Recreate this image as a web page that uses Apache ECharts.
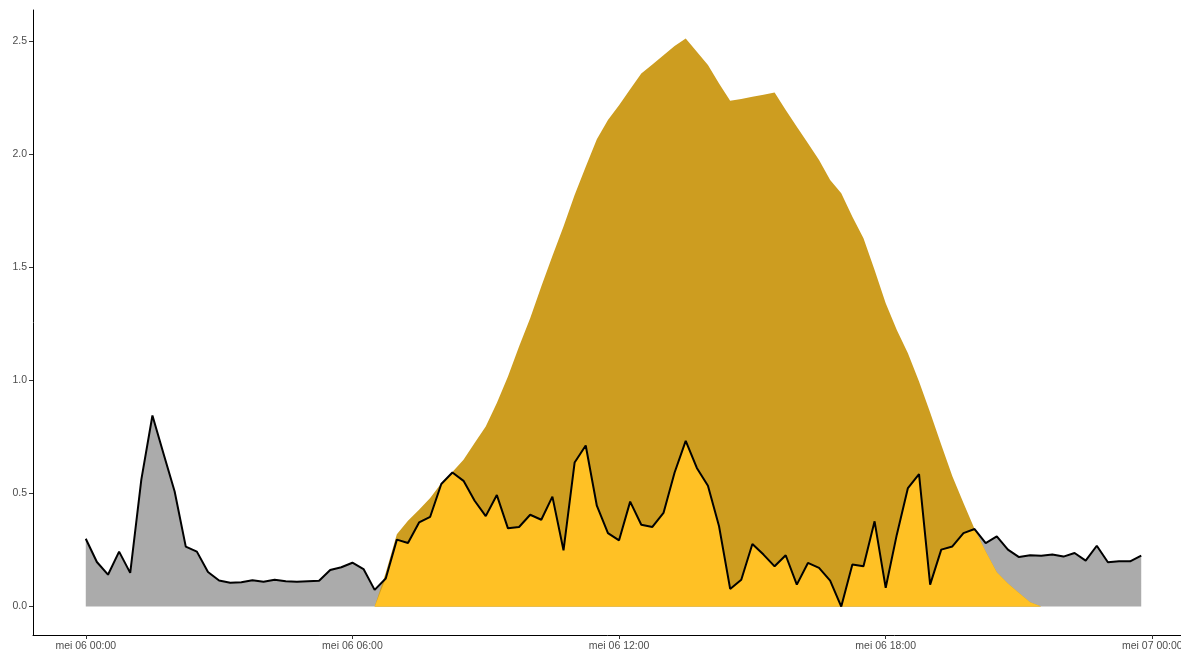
<!DOCTYPE html>
<html>
<head>
<meta charset="utf-8">
<script src="https://cdn.jsdelivr.net/npm/echarts@6/dist/echarts.min.js"></script>
<style>
  html, body { margin: 0; padding: 0; background: #ffffff; }
  #chart { width: 1181px; height: 653px; }
</style>
</head>
<body>
<div id="chart"></div>
<script>
// Time of each sample (15-minute steps on mei 06)
const times = [
  "00:00","00:15","00:30","00:45","01:00","01:15","01:30","01:45",
  "02:00","02:15","02:30","02:45","03:00","03:15","03:30","03:45",
  "04:00","04:15","04:30","04:45","05:00","05:15","05:30","05:45",
  "06:00","06:15","06:30","06:45","07:00","07:15","07:30","07:45",
  "08:00","08:15","08:30","08:45","09:00","09:15","09:30","09:45",
  "10:00","10:15","10:30","10:45","11:00","11:15","11:30","11:45",
  "12:00","12:15","12:30","12:45","13:00","13:15","13:30","13:45",
  "14:00","14:15","14:30","14:45","15:00","15:15","15:30","15:45",
  "16:00","16:15","16:30","16:45","17:00","17:15","17:30","17:45",
  "18:00","18:15","18:30","18:45","19:00","19:15","19:30","19:45",
  "20:00","20:15","20:30","20:45","21:00","21:15","21:30","21:45",
  "22:00","22:15","22:30","22:45","23:00","23:15","23:30","23:45"
];

// Consumption (black line, grey fill)
const consumption = [
  0.300,0.197,0.141,0.243,0.149,0.561,0.845,0.676,
  0.509,0.265,0.243,0.153,0.115,0.105,0.108,0.116,
  0.110,0.119,0.112,0.110,0.112,0.114,0.162,0.174,
  0.194,0.166,0.074,0.124,0.296,0.281,0.372,0.397,
  0.542,0.593,0.556,0.468,0.400,0.493,0.346,0.352,
  0.406,0.384,0.486,0.249,0.637,0.712,0.446,0.325,
  0.293,0.464,0.362,0.352,0.414,0.593,0.733,0.613,
  0.534,0.355,0.078,0.119,0.277,0.230,0.178,0.227,
  0.097,0.193,0.171,0.115,0.000,0.186,0.178,0.377,
  0.083,0.318,0.524,0.586,0.097,0.252,0.266,0.325,
  0.343,0.281,0.310,0.252,0.219,0.227,0.225,0.230,
  0.221,0.237,0.203,0.269,0.196,0.200,0.200,0.225
];

// Solar production (dark gold fill)
const production = [
  0,0,0,0,0,0,0,0,
  0,0,0,0,0,0,0,0,
  0,0,0,0,0,0,0,0,
  0,0,0,0.150,0.320,0.380,0.428,0.480,
  0.545,0.595,0.649,0.723,0.796,0.900,1.017,1.150,
  1.275,1.415,1.550,1.680,1.820,1.945,2.066,2.151,
  2.217,2.287,2.357,2.397,2.438,2.478,2.512,2.453,
  2.394,2.313,2.236,2.244,2.254,2.263,2.273,2.195,
  2.121,2.048,1.974,1.886,1.827,1.724,1.628,1.488,
  1.341,1.223,1.120,0.995,0.858,0.716,0.576,0.458,
  0.343,0.244,0.152,0.102,0.060,0.019,0,0,
  0,0,0,0,0,0,0,0
];

// Axis ticks
const xTickHours = [0, 6, 12, 18, 24];
const xTickLabels = ["mei 06 00:00", "mei 06 06:00", "mei 06 12:00", "mei 06 18:00", "mei 07 00:00"];
const yTicks = [0, 0.5, 1.0, 1.5, 2.0, 2.5];

// ---- build series data ----
function toHours(t) { const p = t.split(":"); return +p[0] + (+p[1]) / 60; }
const hours = times.map(toHours);
const consData = hours.map((h, i) => [h, consumption[i]]);
const prodData = hours.map((h, i) => [h, production[i]]);
const selfData = hours.map((h, i) => [h, Math.min(consumption[i], production[i])]);

const axisTextColor = "#4D4D4D";
const chart = echarts.init(document.getElementById("chart"), null, { renderer: "canvas" });
chart.setOption({
  animation: false,
  backgroundColor: "#ffffff",
  grid: { left: 33, top: 10, width: 1161, height: 625, containLabel: false, outerBoundsMode: "none" },
  xAxis: {
    type: "value",
    min: -1.1875,
    max: 24.9375,
    splitLine: { show: false },
    axisLine: { show: true, onZero: false, lineStyle: { color: "#000000", width: 1 } },
    axisTick: { show: true, customValues: xTickHours, length: 4, lineStyle: { color: "#333333", width: 1 } },
    axisLabel: {
      customValues: xTickHours,
      formatter: v => { const i = xTickHours.indexOf(v); return i >= 0 ? xTickLabels[i] : ""; },
      color: axisTextColor, fontSize: 10.5, fontFamily: "Liberation Sans, Arial, sans-serif", margin: 6
    }
  },
  yAxis: {
    type: "value",
    min: -0.1256,
    max: 2.6376,
    splitLine: { show: false },
    axisLine: { show: true, onZero: false, lineStyle: { color: "#000000", width: 1 } },
    axisTick: { show: true, customValues: yTicks, length: 4, lineStyle: { color: "#333333", width: 1 } },
    axisLabel: {
      customValues: yTicks,
      formatter: v => v.toFixed(1),
      color: axisTextColor, fontSize: 10.5, fontFamily: "Liberation Sans, Arial, sans-serif", margin: 6
    }
  },
  series: [
    {
      name: "Verbruik", type: "line", data: consData, showSymbol: false, silent: true,
      lineStyle: { width: 0, opacity: 0 }, areaStyle: { color: "#ABABAB", opacity: 1 }, z: 1
    },
    {
      name: "Productie", type: "line", data: prodData, showSymbol: false, silent: true,
      lineStyle: { width: 0, opacity: 0 }, areaStyle: { color: "#CD9D20", opacity: 1 }, z: 2
    },
    {
      name: "Eigen verbruik", type: "line", data: selfData, showSymbol: false, silent: true,
      lineStyle: { width: 0, opacity: 0 }, areaStyle: { color: "#FFC125", opacity: 1 }, z: 3
    },
    {
      name: "Verbruik lijn", type: "line", data: consData, showSymbol: false, silent: true,
      lineStyle: { color: "#000000", width: 2 }, z: 4
    }
  ]
});
</script>
</body>
</html>
